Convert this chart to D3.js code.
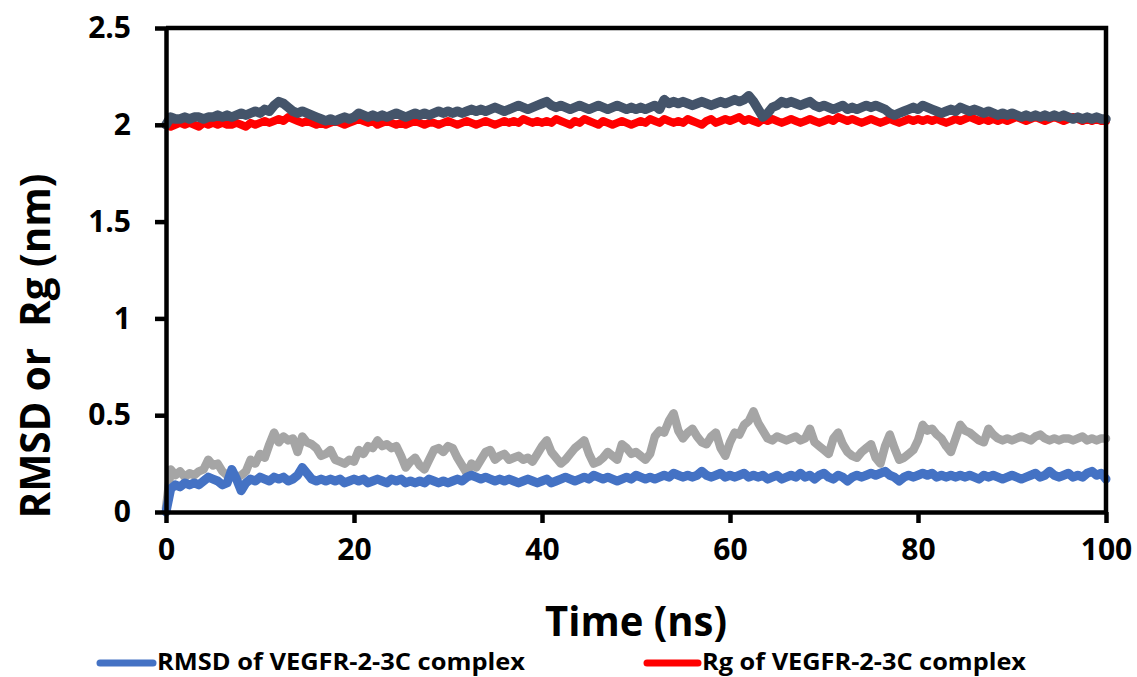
<!DOCTYPE html>
<html>
<head>
<meta charset="utf-8">
<script src="https://cdn.jsdelivr.net/npm/d3@7"></script>
<style>
  html, body { margin: 0; padding: 0; background: #fff; }
  svg { display: block; }
  text { font-family: "Open Sans", "DejaVu Sans", sans-serif; font-weight: 700; fill: #000; }
</style>
</head>
<body>
<svg id="chart" width="1137" height="677"></svg>
<script>
const xTicks = [0, 20, 40, 60, 80, 100];
const yTicks = [0, 0.5, 1, 1.5, 2, 2.5];
const yTickLabels = ["0", "0.5", "1", "1.5", "2", "2.5"];
const xTitle = "Time (ns)";
const yTitle = "RMSD or  Rg (nm)";
const legendNames = ["RMSD of VEGFR-2-3C complex", "Rg of VEGFR-2-3C complex"];

const rmsdComplex = [
  0.00,0.12,0.14,0.13,0.15,0.14,0.15,0.14,0.16,0.18,0.17,0.16,0.14,0.15,0.22,0.17,0.11,0.15,0.17,0.16,0.18,
  0.17,0.16,0.18,0.17,0.18,0.16,0.17,0.19,0.23,0.20,0.17,0.16,0.17,0.16,0.17,0.16,0.17,0.15,0.16,0.17,
  0.16,0.17,0.15,0.16,0.17,0.16,0.15,0.17,0.16,0.17,0.15,0.16,0.15,0.16,0.15,0.17,0.16,0.15,0.16,0.15,
  0.16,0.17,0.16,0.18,0.19,0.18,0.17,0.18,0.17,0.16,0.17,0.16,0.17,0.16,0.15,0.16,0.17,0.16,0.15,0.16,
  0.17,0.15,0.16,0.17,0.18,0.17,0.16,0.17,0.18,0.17,0.19,0.18,0.17,0.18,0.17,0.16,0.17,0.18,0.17,0.19,
  0.18,0.17,0.18,0.17,0.18,0.19,0.18,0.20,0.19,0.18,0.19,0.18,0.19,0.21,0.19,0.18,0.19,0.20,0.18,0.19,
  0.18,0.19,0.20,0.18,0.19,0.18,0.19,0.17,0.18,0.19,0.17,0.18,0.19,0.18,0.20,0.18,0.19,0.17,0.19,0.20,
  0.18,0.17,0.19,0.18,0.16,0.18,0.19,0.18,0.19,0.20,0.19,0.20,0.21,0.19,0.18,0.16,0.18,0.19,0.18,0.19,
  0.20,0.19,0.20,0.18,0.19,0.18,0.19,0.18,0.19,0.18,0.19,0.18,0.17,0.19,0.18,0.19,0.18,0.17,0.18,0.19,
  0.18,0.17,0.18,0.19,0.20,0.18,0.19,0.21,0.19,0.18,0.19,0.20,0.18,0.19,0.18,0.20,0.21,0.19,0.20,0.17
];

const rgComplex = [
  2.00,1.99,2.00,2.01,2.00,2.01,2.00,1.99,2.01,2.00,2.01,2.00,2.01,2.00,2.00,2.01,2.00,1.99,2.01,2.00,2.01,
  2.02,2.01,2.02,2.03,2.02,2.04,2.03,2.02,2.01,2.02,2.01,2.00,2.01,2.00,2.01,2.02,2.01,2.00,2.01,2.02,
  2.03,2.02,2.01,2.02,2.00,2.01,2.02,2.01,2.00,2.01,2.00,2.01,2.02,2.01,2.00,2.01,2.01,2.00,2.01,2.02,
  2.01,2.00,2.01,2.02,2.01,2.00,2.01,2.02,2.01,2.00,2.01,2.02,2.01,2.02,2.01,2.03,2.02,2.01,2.02,2.01,
  2.02,2.01,2.03,2.02,2.01,2.00,2.02,2.01,2.03,2.02,2.01,2.00,2.02,2.01,2.00,2.01,2.02,2.01,2.00,2.01,
  2.02,2.01,2.03,2.02,2.01,2.03,2.02,2.01,2.02,2.01,2.03,2.02,2.01,2.00,2.02,2.03,2.01,2.02,2.03,2.02,
  2.03,2.04,2.02,2.03,2.02,2.01,2.03,2.02,2.03,2.02,2.01,2.02,2.03,2.02,2.01,2.02,2.03,2.02,2.01,2.02,
  2.03,2.02,2.04,2.03,2.02,2.03,2.02,2.01,2.02,2.03,2.02,2.01,2.02,2.03,2.02,2.01,2.02,2.03,2.02,2.03,
  2.02,2.03,2.02,2.03,2.02,2.01,2.02,2.03,2.02,2.03,2.04,2.03,2.02,2.03,2.02,2.03,2.02,2.03,2.02,2.03,
  2.04,2.03,2.02,2.03,2.04,2.03,2.02,2.03,2.04,2.03,2.02,2.03,2.04,2.03,2.02,2.03,2.02,2.03,2.02,2.02
];

const rmsdLigand = [
  0.02,0.22,0.19,0.21,0.18,0.20,0.19,0.21,0.22,0.27,0.24,0.25,0.21,0.19,0.20,0.18,0.19,0.21,0.27,0.25,0.30,
  0.28,0.35,0.41,0.36,0.39,0.37,0.38,0.31,0.39,0.36,0.35,0.33,0.29,0.30,0.32,0.27,0.26,0.25,0.27,0.26,
  0.32,0.30,0.34,0.33,0.37,0.34,0.35,0.33,0.34,0.29,0.23,0.26,0.28,0.24,0.22,0.27,0.32,0.33,0.31,0.34,
  0.33,0.28,0.24,0.20,0.25,0.23,0.27,0.31,0.32,0.27,0.29,0.30,0.27,0.28,0.29,0.27,0.28,0.26,0.30,0.34,
  0.37,0.31,0.28,0.25,0.27,0.30,0.33,0.35,0.37,0.30,0.25,0.26,0.28,0.31,0.29,0.27,0.35,0.33,0.30,0.31,
  0.29,0.27,0.30,0.39,0.42,0.41,0.47,0.51,0.42,0.38,0.41,0.43,0.39,0.36,0.35,0.39,0.41,0.33,0.29,0.36,
  0.41,0.40,0.45,0.47,0.52,0.46,0.42,0.38,0.37,0.39,0.38,0.37,0.38,0.39,0.37,0.38,0.43,0.36,0.34,0.32,
  0.30,0.38,0.41,0.35,0.31,0.29,0.28,0.31,0.33,0.35,0.28,0.25,0.34,0.40,0.33,0.27,0.28,0.30,0.32,0.37,
  0.45,0.42,0.43,0.40,0.38,0.34,0.31,0.38,0.45,0.42,0.41,0.39,0.37,0.36,0.43,0.40,0.38,0.37,0.38,0.37,
  0.38,0.39,0.38,0.37,0.39,0.40,0.38,0.37,0.38,0.37,0.38,0.38,0.37,0.38,0.39,0.37,0.38,0.37,0.38,0.38
];

const rgLigand = [
  2.00,2.04,2.03,2.03,2.04,2.03,2.04,2.04,2.03,2.04,2.04,2.05,2.04,2.05,2.04,2.05,2.06,2.05,2.06,2.07,2.06,
  2.08,2.07,2.10,2.12,2.11,2.09,2.07,2.06,2.07,2.06,2.05,2.04,2.03,2.02,2.03,2.02,2.03,2.04,2.03,2.04,
  2.06,2.05,2.04,2.05,2.04,2.05,2.04,2.05,2.06,2.05,2.04,2.05,2.06,2.05,2.06,2.05,2.06,2.07,2.06,2.07,
  2.06,2.07,2.06,2.07,2.08,2.07,2.08,2.07,2.08,2.09,2.08,2.07,2.08,2.09,2.10,2.09,2.08,2.09,2.10,2.11,
  2.12,2.10,2.09,2.10,2.09,2.08,2.09,2.10,2.09,2.08,2.09,2.10,2.09,2.08,2.09,2.10,2.09,2.08,2.09,2.08,
  2.09,2.08,2.09,2.10,2.08,2.13,2.11,2.12,2.11,2.12,2.11,2.10,2.11,2.12,2.11,2.10,2.11,2.12,2.11,2.12,
  2.13,2.12,2.13,2.15,2.12,2.08,2.04,2.06,2.09,2.10,2.12,2.11,2.12,2.11,2.10,2.11,2.12,2.10,2.09,2.10,
  2.09,2.08,2.09,2.10,2.08,2.09,2.08,2.09,2.10,2.09,2.10,2.09,2.08,2.06,2.05,2.06,2.07,2.08,2.09,2.08,
  2.10,2.09,2.08,2.07,2.06,2.07,2.08,2.07,2.09,2.08,2.07,2.08,2.07,2.06,2.07,2.06,2.05,2.06,2.05,2.06,
  2.05,2.04,2.05,2.04,2.05,2.04,2.05,2.04,2.05,2.04,2.05,2.04,2.03,2.04,2.03,2.04,2.03,2.04,2.03,2.03
];

const seriesColors = ["#A5A5A5", "#4472C4", "#FF0000", "#44546A"];

// ---- Layout ----
const svg = d3.select("#chart");
const plot = { left: 166, right: 1106, top: 28, bottom: 512 };

const x = d3.scaleLinear().domain([0, 100]).range([plot.left, plot.right]);
const y = d3.scaleLinear().domain([0, 2.5]).range([plot.bottom, plot.top]);

const series = [
  { name: "RMSD ligand", values: rmsdLigand, color: seriesColors[0], w: 8.5 },
  { name: legendNames[0], values: rmsdComplex, color: seriesColors[1], w: 9 },
  { name: legendNames[1], values: rgComplex, color: seriesColors[2], w: 8 },
  { name: "Rg ligand", values: rgLigand, color: seriesColors[3], w: 9.5 }
];

const line = d3.line()
  .x((d, i, arr) => x(i * 100 / (arr.length - 1)))
  .y(d => y(d))
  .curve(d3.curveLinear);

svg.append("g").selectAll("path")
  .data(series)
  .join("path")
  .attr("d", d => line(d.values))
  .attr("fill", "none")
  .attr("stroke", d => d.color)
  .attr("stroke-width", d => d.w)
  .attr("stroke-linejoin", "round")
  .attr("stroke-linecap", "round");

// ---- Frame (top and right borders) ----
svg.append("path")
  .attr("d", `M${plot.left},${plot.top}H${plot.right}V${plot.bottom}`)
  .attr("fill", "none")
  .attr("stroke", "#000")
  .attr("stroke-width", 4.5);

// ---- Axes ----
const xAxis = d3.axisBottom(x).tickValues(xTicks).tickSizeInner(11).tickSizeOuter(0).tickPadding(16)
  .tickFormat(d3.format("d"));
const gx = svg.append("g").attr("transform", `translate(0,${plot.bottom})`).call(xAxis);
gx.select(".domain").attr("stroke", "#000").attr("stroke-width", 4.5);
gx.selectAll(".tick line").attr("stroke", "#000").attr("stroke-width", 4.5);
gx.selectAll(".tick text").style("font-size", "30px").style("font-family", "'Open Sans', sans-serif")
  .style("font-weight", 700).attr("fill", "#000").attr("dy", "0.71em");

const yAxis = d3.axisLeft(y).tickValues(yTicks).tickSizeInner(11).tickSizeOuter(0).tickPadding(24)
  .tickFormat((d, i) => yTickLabels[i]);
const gy = svg.append("g").attr("transform", `translate(${plot.left},0)`).call(yAxis);
gy.select(".domain").attr("stroke", "#000").attr("stroke-width", 4.5);
gy.selectAll(".tick line").attr("stroke", "#000").attr("stroke-width", 4.5);
gy.selectAll(".tick text").style("font-size", "30px").style("font-family", "'Open Sans', sans-serif")
  .style("font-weight", 700).attr("fill", "#000");

// ---- Titles ----
svg.append("text")
  .attr("x", (plot.left + plot.right) / 2)
  .attr("y", 636)
  .attr("text-anchor", "middle")
  .attr("textLength", 182)
  .attr("lengthAdjust", "spacingAndGlyphs")
  .style("font-size", "42px")
  .text(xTitle);

svg.append("text")
  .attr("transform", "translate(50,346) rotate(-90)")
  .attr("text-anchor", "middle")
  .attr("textLength", 345)
  .attr("lengthAdjust", "spacingAndGlyphs")
  .style("font-size", "42px")
  .style("white-space", "pre")
  .text(yTitle);

// ---- Legend ----
const legendItems = [
  { name: legendNames[0], color: seriesColors[1], x0: 100, x1: 153, tx: 157, tl: 368 },
  { name: legendNames[1], color: seriesColors[2], x0: 647, x1: 698, tx: 702, tl: 324 }
];
const lg = svg.append("g").selectAll("g").data(legendItems).join("g");
lg.append("line")
  .attr("x1", d => d.x0).attr("x2", d => d.x1)
  .attr("y1", 663).attr("y2", 663)
  .attr("stroke", d => d.color).attr("stroke-width", 7).attr("stroke-linecap", "round");
lg.append("text")
  .attr("x", d => d.tx).attr("y", 670)
  .attr("textLength", d => d.tl)
  .attr("lengthAdjust", "spacingAndGlyphs")
  .style("font-size", "23px")
  .text(d => d.name);
</script>
</body>
</html>
